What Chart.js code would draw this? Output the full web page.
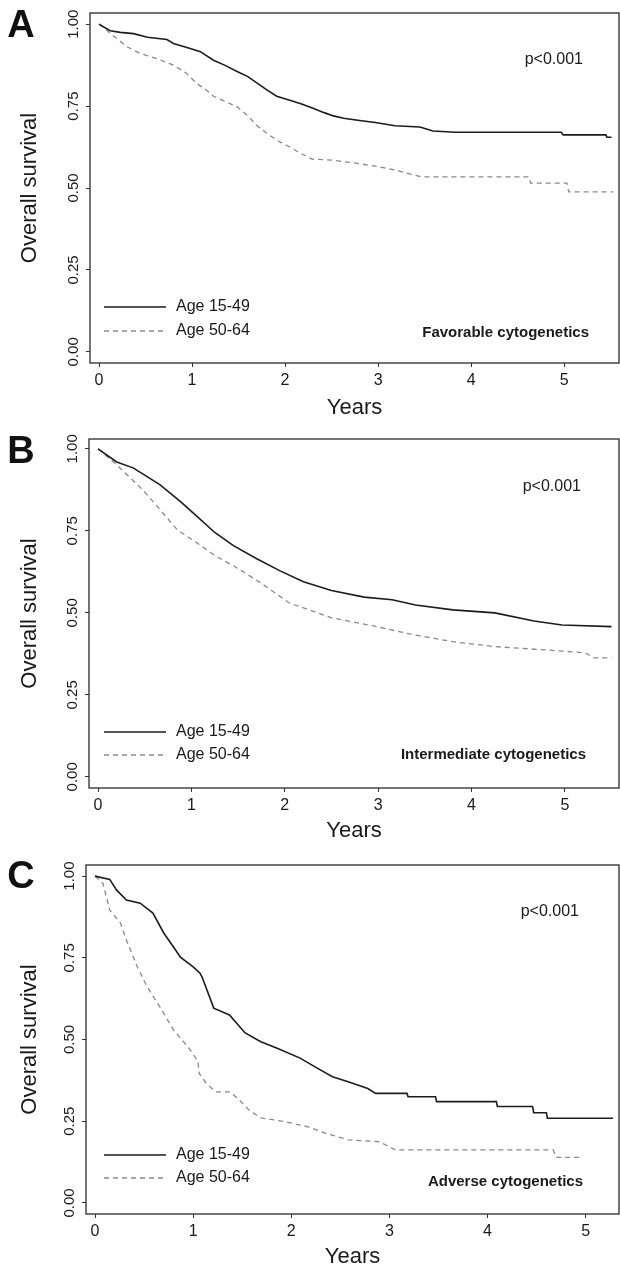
<!DOCTYPE html>
<html>
<head>
<meta charset="utf-8">
<script src="https://cdn.jsdelivr.net/npm/chart.js@4/dist/chart.umd.min.js"></script>
<style>
  body { margin: 0; background: #fff; }
  canvas { display: block; }
</style>
</head>
<body>
<canvas id="chartA" width="620" height="420"></canvas>
<canvas id="chartB" width="620" height="423"></canvas>
<canvas id="chartC" width="620" height="426"></canvas>
<script>
// tick labels
const yTicks = [0, 0.25, 0.5, 0.75, 1];
const xTicks = [0, 1, 2, 3, 4, 5];
const seriesNames = ["Age 15-49", "Age 50-64"];
const panelNames = ["Favorable cytogenetics", "Intermediate cytogenetics", "Adverse cytogenetics"];
const pText = "p<0.001";

// A - favorable
const aYoungX = [0, 0.12, 0.23, 0.37, 0.52, 0.73, 0.80, 0.98, 1.09, 1.23, 1.35, 1.49, 1.60, 1.70, 1.80, 1.91, 2.05, 2.17, 2.30, 2.42, 2.52, 2.63, 2.80, 2.97, 3.18, 3.45, 3.59, 3.83, 4.97, 4.99, 5.45, 5.46, 5.51];
const aYoungY = [1, 0.98, 0.975, 0.971, 0.96, 0.953, 0.941, 0.926, 0.916, 0.89, 0.875, 0.855, 0.84, 0.82, 0.80, 0.78, 0.768, 0.757, 0.743, 0.73, 0.72, 0.713, 0.706, 0.70, 0.69, 0.686, 0.674, 0.67, 0.67, 0.662, 0.662, 0.655, 0.655];
const aOldX = [0, 0.17, 0.30, 0.44, 0.62, 0.80, 0.94, 1.05, 1.15, 1.23, 1.35, 1.49, 1.60, 1.70, 1.80, 1.91, 2.05, 2.16, 2.29, 2.50, 2.76, 3.00, 3.18, 3.46, 4.62, 4.64, 5.03, 5.05, 5.53];
const aOldY = [1, 0.961, 0.931, 0.911, 0.895, 0.875, 0.85, 0.819, 0.80, 0.78, 0.765, 0.747, 0.72, 0.69, 0.668, 0.646, 0.625, 0.607, 0.588, 0.585, 0.576, 0.565, 0.555, 0.534, 0.534, 0.515, 0.515, 0.488, 0.488];

// B - intermediate
const bYoungX = [0, 0.2, 0.375, 0.5, 0.665, 0.88, 1.06, 1.25, 1.45, 1.70, 1.95, 2.20, 2.50, 2.85, 3.15, 3.40, 3.80, 4.25, 4.67, 4.97, 5.50];
const bYoungY = [1, 0.96, 0.942, 0.92, 0.89, 0.84, 0.794, 0.745, 0.705, 0.665, 0.628, 0.595, 0.568, 0.548, 0.54, 0.524, 0.509, 0.50, 0.475, 0.463, 0.458];
const bOldX = [0, 0.2, 0.48, 0.665, 0.85, 1.06, 1.25, 1.50, 1.75, 2.05, 2.50, 2.95, 3.35, 3.80, 4.25, 4.80, 5.22, 5.31, 5.50];
const bOldY = [1, 0.951, 0.875, 0.814, 0.753, 0.713, 0.675, 0.635, 0.59, 0.53, 0.485, 0.46, 0.435, 0.412, 0.397, 0.387, 0.378, 0.363, 0.363];

// C - adverse
const cYoungX = [0, 0.15, 0.22, 0.32, 0.46, 0.59, 0.70, 0.80, 0.87, 1.0, 1.07, 1.09, 1.21, 1.37, 1.53, 1.69, 1.85, 2.09, 2.26, 2.42, 2.58, 2.78, 2.86, 3.18, 3.19, 3.47, 3.48, 4.09, 4.10, 4.46, 4.47, 4.60, 4.61, 5.28];
const cYoungY = [1, 0.99, 0.957, 0.927, 0.917, 0.887, 0.826, 0.783, 0.752, 0.722, 0.703, 0.692, 0.596, 0.575, 0.52, 0.493, 0.474, 0.443, 0.413, 0.386, 0.371, 0.35, 0.335, 0.335, 0.325, 0.325, 0.31, 0.31, 0.295, 0.295, 0.276, 0.276, 0.259, 0.259];
const cOldX = [0, 0.08, 0.15, 0.26, 0.32, 0.43, 0.53, 0.66, 0.80, 0.89, 0.97, 1.05, 1.06, 1.13, 1.23, 1.37, 1.45, 1.57, 1.69, 1.93, 2.17, 2.34, 2.58, 2.90, 3.06, 4.67, 4.70, 4.95];
const cOldY = [1, 0.978, 0.896, 0.856, 0.804, 0.723, 0.662, 0.60, 0.529, 0.498, 0.468, 0.432, 0.397, 0.367, 0.34, 0.34, 0.321, 0.284, 0.26, 0.249, 0.233, 0.214, 0.193, 0.187, 0.162, 0.162, 0.139, 0.139];

const fontFam = "'Liberation Sans', Arial, Helvetica, sans-serif";

function toPoints(xs, ys) {
    let pts = [];
    for (let i = 0; i < xs.length; i++) {
        pts.push({x: xs[i], y: ys[i]});
    }
    return pts;
}

// box, panel letter, legend and the two notes
const panelDeco = {
    id: 'panelDeco',
    afterDraw(chart, args, o) {
        let ctx = chart.ctx;
        let area = chart.chartArea;
        ctx.save();
        ctx.strokeStyle = '#2a2a2a';
        ctx.lineWidth = 1.3;
        ctx.strokeRect(area.left, area.top, area.right - area.left, area.bottom - area.top);

        ctx.fillStyle = '#111';
        ctx.textAlign = 'center';
        ctx.textBaseline = 'middle';
        ctx.font = 'bold 38px ' + fontFam;
        ctx.fillText(o.letter, 21, o.letterY);

        // legend
        chart.data.datasets.forEach((ds, k) => {
            let y = o.legendY[k];
            ctx.beginPath();
            ctx.strokeStyle = ds.borderColor;
            ctx.lineWidth = ds.borderWidth;
            ctx.setLineDash(ds.borderDash || []);
            ctx.moveTo(104, y);
            ctx.lineTo(166, y);
            ctx.stroke();
            ctx.setLineDash([]);
            ctx.fillStyle = '#1a1a1a';
            ctx.font = '16px ' + fontFam;
            ctx.textAlign = 'left';
            ctx.fillText(ds.label, 176, y);
        });

        ctx.textAlign = 'right';
        ctx.font = '16px ' + fontFam;
        ctx.fillText(pText, o.pX, o.pY);
        ctx.font = 'bold 15px ' + fontFam;
        ctx.fillText(o.name, o.nameX, o.nameY);
        ctx.restore();
    }
};

function makePanel(id, p) {
    return new Chart(document.getElementById(id), {
        type: 'line',
        data: {
            datasets: [
                {
                    label: seriesNames[0],
                    data: toPoints(p.youngX, p.youngY),
                    borderColor: '#1c1c1c',
                    borderWidth: 1.6,
                    pointRadius: 0,
                    tension: 0,
                    fill: false
                },
                {
                    label: seriesNames[1],
                    data: toPoints(p.oldX, p.oldY),
                    borderColor: '#8a8a8a',
                    borderWidth: 1.3,
                    borderDash: [5, 4],
                    pointRadius: 0,
                    tension: 0,
                    fill: false
                }
            ]
        },
        options: {
            responsive: false,
            animation: false,
            layout: {padding: {top: p.top, right: 1, left: 0, bottom: 0}},
            plugins: {
                legend: {display: false},
                tooltip: {enabled: false},
                panelDeco: p.deco
            },
            scales: {
                x: {
                    type: 'linear',
                    min: p.xMin,
                    max: p.xMax,
                    afterBuildTicks: s => { s.ticks = xTicks.map(v => ({value: v})); },
                    afterFit: s => { s.height = p.xAxisH; },
                    grid: {drawOnChartArea: false, tickLength: 4, tickColor: '#333', tickWidth: 1},
                    border: {display: false},
                    ticks: {color: '#1a1a1a', font: {family: fontFam, size: 16}, padding: 4, maxRotation: 0},
                    title: {display: true, text: 'Years', color: '#1a1a1a', font: {family: fontFam, size: 22}, padding: {top: 0, bottom: -1}}
                },
                y: {
                    type: 'linear',
                    min: p.yMin,
                    max: p.yMax,
                    afterBuildTicks: s => { s.ticks = yTicks.map(v => ({value: v})); },
                    afterFit: s => { s.width = p.left; },
                    grid: {drawOnChartArea: false, tickLength: 4, tickColor: '#333', tickWidth: 1},
                    border: {display: false},
                    ticks: {
                        color: '#1a1a1a',
                        font: {family: fontFam, size: 15},
                        minRotation: 90,
                        maxRotation: 90,
                        crossAlign: 'center',
                        padding: -2.5,
                        callback: v => Number(v).toFixed(2)
                    },
                    title: {display: true, text: 'Overall survival', color: '#1a1a1a', font: {family: fontFam, size: 22}, padding: {top: 17, bottom: 0}}
                }
            }
        },
        plugins: [panelDeco]
    });
}

makePanel('chartA', {
    youngX: aYoungX, youngY: aYoungY, oldX: aOldX, oldY: aOldY,
    top: 13, left: 90, xAxisH: 57,
    xMin: -0.097, xMax: 5.59, yMin: -0.034, yMax: 1.034,
    deco: {letter: 'A', letterY: 27, legendY: [307, 331], pX: 583, pY: 60, name: panelNames[0], nameX: 589, nameY: 333}
});

makePanel('chartB', {
    youngX: bYoungX, youngY: bYoungY, oldX: bOldX, oldY: bOldY,
    top: 19, left: 89, xAxisH: 55,
    xMin: -0.097, xMax: 5.58, yMin: -0.034, yMax: 1.030,
    deco: {letter: 'B', letterY: 33, legendY: [312, 335], pX: 581, pY: 67, name: panelNames[1], nameX: 586, nameY: 335}
});

makePanel('chartC', {
    youngX: cYoungX, youngY: cYoungY, oldX: cOldX, oldY: cOldY,
    top: 22, left: 86, xAxisH: 55,
    xMin: -0.092, xMax: 5.34, yMin: -0.034, yMax: 1.034,
    deco: {letter: 'C', letterY: 35, legendY: [312, 335], pX: 579, pY: 69, name: panelNames[2], nameX: 583, nameY: 339}
});
</script>
</body>
</html>
